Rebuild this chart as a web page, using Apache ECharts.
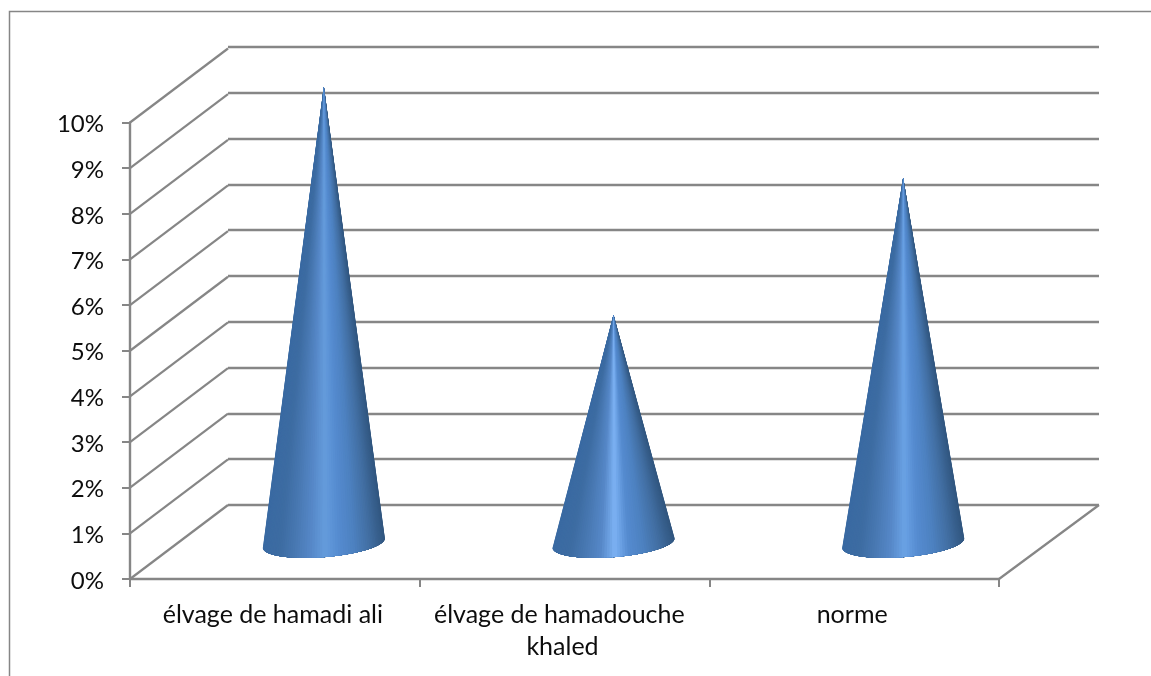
<!DOCTYPE html>
<html>
<head>
<meta charset="utf-8">
<style>
    html, body { margin: 0; padding: 0; background: #fff; }
    #chart { width: 1151px; height: 676px; }
</style>
<script src="https://cdn.jsdelivr.net/npm/echarts@6/dist/echarts.min.js"></script>
</head>
<body>
<div id="chart"></div>
<script>
const categories = ['élvage de hamadi ali', 'élvage de hamadouche khaled', 'norme']
const values = [10, 5, 8]
const yTicks = [0, 1, 2, 3, 4, 5, 6, 7, 8, 9, 10]

const gridColor = '#868686'
const textColor = '#0d0d0d'
const highlights = ['#669ede', '#80b6f8', '#6ca5e8']

const myChart = echarts.init(document.getElementById('chart'))

// front edge of the wall to the back edge, in pixels
const renderDiagonal = (params, api) => {
    const start = api.coord([api.value(0), api.value(1)])
    const dx = api.value(0) === 0 ? 98 : 100
    return {
        type: 'line',
        shape: { x1: start[0], y1: start[1], x2: start[0] + dx, y2: start[1] - 74 },
        style: { stroke: gridColor, lineWidth: 2.2 }
    }
}

// nested wedges from the tip, painted from both edges in to the middle,
// so the shading narrows with the cone and leaves no seams
const renderCone = (params, api) => {
    const index = api.value(0)
    const base = api.coord([index, 0])
    const top = api.coord([index, api.value(1)])
    const cx = base[0] + 49
    const cy = base[1] - 36
    const tip = [top[0] + 49, top[1] - 36]
    const shades = ['#3a6aa2', '#3d6ca2', '#4979b3', '#5688c8', highlights[index], '#558bd0', '#4d81c0', '#426fa3', '#31567f']
    const steps = 36
    const wedge = (from, to, color) => {
        const points = [tip]
        for (let k = 0; k <= 24; k++) {
            const t = from + (to - from) * k / 24
            points.push([
                cx + 61 * Math.cos(t) + 1.2 * Math.sin(t),
                cy - 5 * Math.cos(t) + 14 * Math.sin(t)
            ])
        }
        return { type: 'polygon', shape: { points }, style: { fill: color } }
    }
    const children = []
    for (let i = 0; i < steps; i++) {
        const t = (Math.PI / 2) * i / steps
        children.push(wedge(t, Math.PI / 2 + 0.04, echarts.color.lerp((Math.cos(t) + 1) / 2, shades)))
        children.push(wedge(Math.PI / 2 - 0.04, Math.PI - t, echarts.color.lerp((1 - Math.cos(t)) / 2, shades)))
    }
    return { type: 'group', children }
}

const option = {
    animation: false,
    graphic: [
        {
            type: 'polyline',
            shape: { points: [[9.5, 676], [9.5, 11.5], [1151, 11.5]] },
            style: { stroke: gridColor, lineWidth: 1.5, fill: null }
        }
    ],
    grid: [
        { left: 130, top: 122.5, width: 869, height: 456.5 },
        { left: 228, top: 47, width: 871, height: 458 }
    ],
    xAxis: [
        {
            type: 'category',
            gridIndex: 0,
            data: categories,
            axisLine: { lineStyle: { color: gridColor, width: 2.4 } },
            axisTick: { show: true, length: 8, lineStyle: { color: gridColor, width: 2 } },
            axisLabel: {
                fontFamily: 'Lato',
                fontSize: 25,
                color: textColor,
                interval: 0,
                margin: 20,
                lineHeight: 32,
                width: 290,
                overflow: 'break',
                padding: [0, 4, 0, 0]
            }
        },
        { type: 'value', gridIndex: 0, min: 0, max: 1, show: false },
        { type: 'value', gridIndex: 1, min: 0, max: 1, show: false }
    ],
    yAxis: [
        {
            type: 'value',
            gridIndex: 0,
            min: 0,
            max: 10,
            interval: 1,
            axisLine: { show: true, lineStyle: { color: gridColor, width: 2.4 } },
            axisTick: { show: true, length: 8, lineStyle: { color: gridColor, width: 2 } },
            axisLabel: {
                fontFamily: 'Lato',
                fontSize: 24,
                color: textColor,
                margin: 26,
                verticalAlign: 'top',
                lineHeight: 4,
                formatter: '{value}%'
            },
            splitLine: { show: false }
        },
        {
            type: 'value',
            gridIndex: 1,
            min: 0,
            max: 10,
            interval: 1,
            axisLine: { show: false },
            axisTick: { show: false },
            axisLabel: { show: false },
            splitLine: { show: true, lineStyle: { color: gridColor, width: 2.4 } }
        }
    ],
    series: [
        {
            type: 'custom',
            xAxisIndex: 1,
            yAxisIndex: 0,
            silent: true,
            clip: false,
            z: 3,
            renderItem: renderDiagonal,
            data: yTicks.map(tick => [0, tick]).concat([[1, 0]])
        },
        {
            type: 'custom',
            xAxisIndex: 0,
            yAxisIndex: 0,
            clip: false,
            z: 5,
            renderItem: renderCone,
            data: values.map((value, index) => [index, value])
        }
    ]
}
myChart.setOption(option)
</script>
</body>
</html>
